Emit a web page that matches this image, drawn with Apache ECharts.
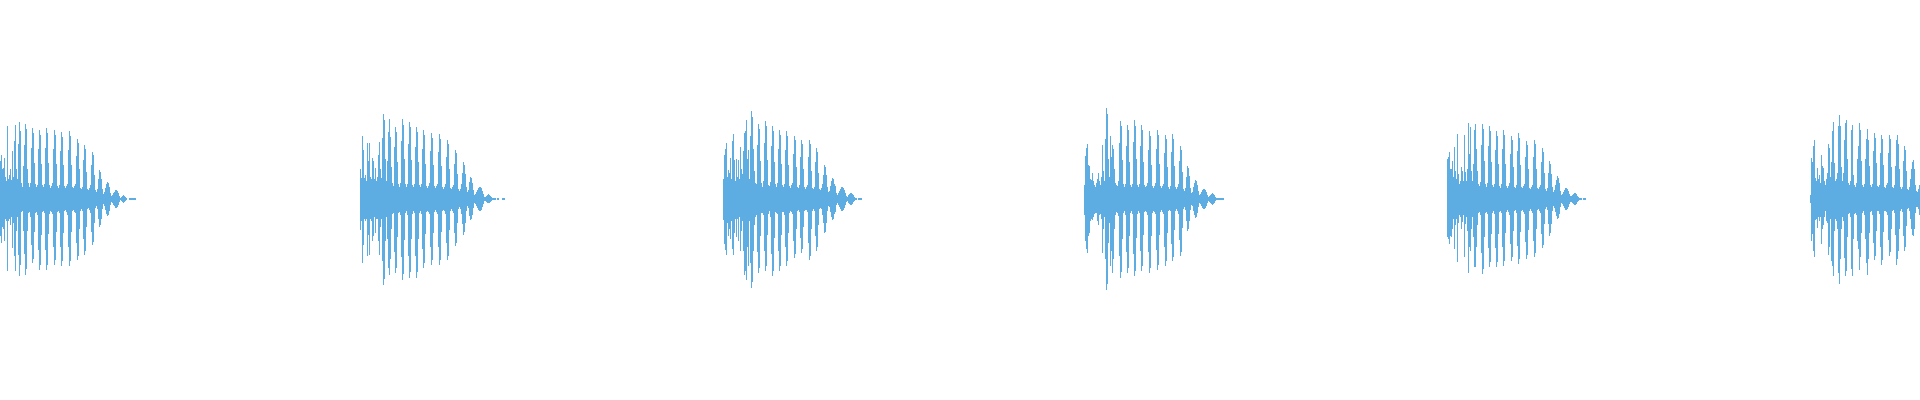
<!DOCTYPE html>
<html>
<head>
<meta charset="utf-8">
<title>waveform</title>
<script src="https://cdn.jsdelivr.net/npm/echarts@6/dist/echarts.min.js"></script>
<style>
  html, body { margin: 0; padding: 0; background: #fff; }
  #wave { width: 1920px; height: 400px; }
</style>
</head>
<body>
<div id="wave"></div>
<script>
// sample index where each burst starts
var onsets = [-2, 360, 723, 1084, 1447, 1810];

// per-column peak (upper) and trough (lower) of each burst
var upper1 = [30,40,38,44,30,31,41,22,18,73,20,24,30,19,48,22,58,74,30,20,55,77,68,16,12,33,54,75,70,30,16,12,16,51,71,66,36,15,12,14,50,69,64,35,14,12,15,51,71,66,36,14,11,13,16,50,69,64,35,13,11,14,48,67,62,34,13,11,13,15,49,68,63,34,12,11,13,15,43,60,56,30,11,10,12,39,54,50,27,10,9,11,14,34,47,44,24,9,7,10,20,29,27,20,10,5,7,11,15,17,16,12,6,3,4,6,7,9,9,8,6,3,1,2,3,4,3,2,1,0,0,1,1,1,1,1,1,1];
var lower1 = [-30,-38,-37,-44,-28,-30,-42,-20,-22,-72,-22,-20,-26,-18,-49,-24,-57,-72,-32,-18,-56,-77,-66,-13,-12,-32,-55,-76,-70,-32,-14,-13,-18,-46,-64,-60,-33,-14,-13,-16,-51,-71,-66,-36,-13,-12,-14,-51,-71,-66,-35,-15,-12,-13,-15,-48,-66,-61,-33,-13,-12,-14,-48,-67,-62,-34,-12,-11,-13,-16,-48,-67,-62,-33,-12,-11,-13,-14,-44,-61,-57,-30,-12,-10,-12,-40,-56,-52,-28,-10,-9,-11,-14,-33,-46,-43,-24,-9,-7,-10,-20,-28,-26,-20,-10,-5,-7,-11,-15,-17,-16,-12,-6,-3,-4,-6,-7,-9,-9,-8,-6,-3,-1,-2,-3,-4,-3,-2,-1,0,0,-1,-1,-1,-1,-1,-1,-1];

var upper2 = [30,21,63,49,21,24,18,56,38,56,22,20,41,38,20,31,18,22,44,57,30,21,61,85,79,40,18,38,67,80,62,32,16,13,52,72,67,37,15,12,16,58,80,74,40,15,12,15,55,77,72,39,14,12,15,52,72,67,37,14,12,15,50,69,64,35,13,11,13,16,48,66,61,34,13,11,13,15,47,65,60,33,12,10,12,15,42,59,55,30,11,10,12,14,35,49,46,25,10,8,10,15,26,37,34,25,12,7,9,17,22,21,16,9,4,5,7,9,11,12,12,11,8,5,2,2,3,4,5,4,3,2,1,1,1,1,0,1,1,0,0,0,1,1,1];
var lower2 = [-31,-22,-64,-46,-20,-22,-20,-57,-36,-56,-20,-22,-42,-37,-18,-34,-20,-20,-42,-56,-28,-20,-62,-86,-80,-42,-18,-40,-69,-76,-60,-30,-15,-14,-53,-74,-69,-38,-14,-13,-16,-58,-81,-75,-41,-14,-12,-16,-57,-79,-73,-40,-15,-12,-14,-57,-79,-73,-40,-14,-12,-15,-50,-69,-64,-35,-13,-12,-13,-15,-48,-66,-61,-34,-13,-11,-13,-15,-48,-66,-61,-33,-12,-11,-12,-15,-44,-61,-57,-31,-12,-10,-12,-14,-34,-47,-44,-24,-10,-8,-10,-15,-25,-36,-33,-24,-12,-7,-9,-17,-21,-20,-16,-9,-4,-5,-7,-9,-11,-12,-12,-11,-8,-5,-2,-2,-3,-4,-4,-4,-3,-2,-1,-1,-1,-1,0,-1,-1,0,0,0,-1,-1,-1];

var upper3 = [20,44,50,56,22,29,26,41,20,58,65,39,18,40,22,39,20,52,30,25,48,66,68,79,40,49,20,63,88,82,50,28,16,15,54,75,70,38,16,12,18,56,78,73,39,14,13,17,53,73,68,37,15,12,16,50,69,64,35,14,12,15,49,68,63,34,13,11,14,16,45,63,59,32,12,11,14,42,59,55,30,12,10,12,14,42,59,55,28,11,10,12,37,51,47,26,10,9,11,15,24,34,32,24,12,7,8,13,18,21,20,15,13,6,4,6,8,10,12,12,11,9,6,3,2,4,5,6,6,5,4,2,1,1,0,1,1,1,1];
var lower3 = [-21,-45,-51,-56,-24,-37,-30,-40,-22,-50,-56,-34,-20,-38,-20,-42,-18,-52,-32,-22,-52,-76,-72,-81,-48,-67,-22,-64,-89,-83,-52,-26,-18,-16,-53,-74,-69,-37,-14,-14,-16,-52,-72,-67,-36,-15,-12,-18,-55,-77,-72,-39,-13,-14,-15,-52,-72,-67,-36,-13,-13,-16,-48,-67,-62,-34,-14,-12,-13,-15,-42,-59,-55,-30,-12,-11,-13,-39,-54,-50,-28,-12,-11,-11,-13,-44,-61,-57,-30,-12,-10,-12,-37,-52,-48,-26,-10,-9,-10,-16,-24,-34,-33,-24,-12,-7,-8,-13,-18,-21,-20,-15,-13,-6,-4,-6,-8,-10,-12,-12,-11,-9,-6,-3,-2,-4,-5,-6,-6,-5,-3,-2,-1,-1,0,-1,-1,-1,-1];

var upper4 = [14,43,51,55,34,33,20,19,26,18,14,12,16,20,26,18,14,22,54,28,18,60,91,85,40,22,63,42,54,50,30,16,14,13,18,56,78,73,39,15,12,15,53,74,69,37,14,12,15,57,79,73,40,14,12,15,53,74,69,37,14,12,13,16,49,68,63,34,13,11,13,16,50,69,64,35,13,11,13,15,46,64,60,32,12,10,13,47,65,60,33,12,10,12,15,38,53,49,27,10,8,11,22,33,31,23,11,6,7,12,16,19,18,14,8,4,5,7,9,10,10,9,7,4,2,3,4,5,6,5,4,2,1,1,1,1,1,1,1,1];
var lower4 = [-16,-42,-50,-54,-37,-34,-22,-20,-21,-18,-15,-14,-14,-22,-26,-16,-15,-20,-54,-30,-18,-60,-91,-85,-44,-24,-67,-52,-74,-60,-30,-16,-13,-14,-17,-57,-79,-73,-40,-14,-12,-16,-53,-74,-69,-37,-14,-12,-15,-55,-77,-72,-39,-15,-12,-14,-52,-72,-67,-36,-13,-12,-13,-16,-53,-74,-69,-37,-14,-12,-13,-15,-51,-71,-66,-36,-13,-11,-13,-15,-48,-67,-62,-34,-12,-11,-12,-45,-62,-58,-31,-12,-10,-12,-15,-41,-57,-53,-29,-10,-8,-11,-22,-32,-30,-22,-11,-6,-7,-12,-16,-19,-18,-14,-8,-4,-5,-7,-9,-10,-10,-9,-7,-4,-2,-3,-4,-5,-6,-5,-4,-2,-1,-1,-1,-1,-1,-1,-1,-1];

var upper5 = [40,42,47,30,30,38,22,52,28,20,65,25,15,18,32,28,18,64,27,18,30,76,45,72,28,18,35,69,75,50,28,15,13,17,54,75,70,38,15,12,16,53,73,68,37,14,12,15,49,68,63,35,13,11,15,50,69,64,35,13,11,13,16,45,63,59,32,12,11,14,48,66,61,34,12,11,13,15,42,58,54,30,11,10,12,14,42,59,55,30,11,10,12,14,37,51,47,26,10,8,11,26,38,35,25,12,7,9,14,19,23,21,16,8,4,5,7,9,11,11,10,8,5,3,3,4,5,6,6,5,3,2,1,1,1,0,1,1,1];
var lower5 = [-38,-40,-45,-37,-38,-30,-20,-50,-26,-20,-63,-24,-16,-18,-30,-23,-16,-58,-25,-18,-32,-74,-48,-52,-30,-18,-38,-68,-68,-48,-26,-14,-13,-16,-54,-75,-70,-38,-14,-13,-15,-49,-68,-63,-35,-14,-12,-15,-49,-68,-63,-35,-13,-12,-14,-48,-67,-62,-34,-13,-11,-13,-16,-45,-62,-58,-32,-12,-11,-14,-47,-65,-60,-33,-12,-11,-13,-15,-43,-60,-56,-31,-12,-10,-12,-14,-42,-58,-54,-30,-11,-10,-12,-14,-35,-49,-46,-25,-10,-8,-11,-25,-37,-34,-25,-12,-7,-9,-13,-17,-20,-19,-15,-8,-4,-5,-7,-9,-11,-11,-10,-8,-5,-3,-3,-4,-5,-6,-6,-5,-3,-2,-1,-1,-1,0,-1,-1,-1];

var upper6 = [4,41,37,53,59,21,18,31,20,24,16,44,33,31,18,14,20,26,55,51,22,37,68,77,36,18,20,26,73,84,73,32,18,26,59,76,79,40,16,14,18,69,74,24,14,12,16,40,53,76,69,38,14,12,15,40,60,70,59,33,14,12,15,48,66,61,36,13,12,14,46,64,60,34,12,11,14,16,46,64,60,32,12,11,14,33,59,64,55,30,12,10,12,38,53,49,28,10,9,12,20,30,37,39,30,14,8,7,10,14];
var lower6 = [-4,-42,-35,-52,-58,-21,-20,-29,-18,-22,-18,-45,-30,-26,-18,-12,-22,-24,-56,-48,-20,-62,-67,-77,-32,-20,-22,-30,-74,-85,-60,-30,-18,-22,-59,-77,-72,-38,-15,-14,-18,-70,-77,-40,-15,-14,-16,-42,-50,-71,-58,-34,-14,-12,-16,-40,-64,-76,-60,-34,-13,-12,-16,-44,-61,-57,-32,-12,-12,-15,-48,-66,-61,-33,-12,-12,-13,-16,-41,-57,-53,-30,-12,-11,-14,-36,-66,-60,-52,-30,-12,-10,-13,-37,-52,-48,-27,-10,-9,-12,-20,-30,-36,-37,-30,-14,-8,-8,-10,-16];

var uppers = [upper1, upper2, upper3, upper4, upper5, upper6];
var lowers = [lower1, lower2, lower3, lower4, lower5, lower6];

function toPoints(bursts) {
    var pts = [];
    bursts.forEach(function (arr, k) {
        arr.forEach(function (v, i) {
            pts.push([onsets[k] + i, v]);
        });
    });
    return pts;
}

var waveColor = '#5dade2';

var option = {
    animation: false,
    backgroundColor: '#ffffff',
    grid: { left: 0, right: 0, top: 0, bottom: 0 },
    xAxis: {
        type: 'value',
        min: -0.5,
        max: 1919.5,
        show: false
    },
    yAxis: {
        type: 'value',
        min: -201,
        max: 199,
        show: false
    },
    series: [{
        name: 'upper',
        type: 'bar',
        data: toPoints(uppers),
        barWidth: 1,
        barGap: '-100%',
        silent: true,
        itemStyle: { color: waveColor }
    }, {
        name: 'lower',
        type: 'bar',
        data: toPoints(lowers),
        barWidth: 1,
        barGap: '-100%',
        silent: true,
        itemStyle: { color: waveColor }
    }]
};

var chart = echarts.init(document.getElementById('wave'));
chart.setOption(option);
</script>
</body>
</html>
